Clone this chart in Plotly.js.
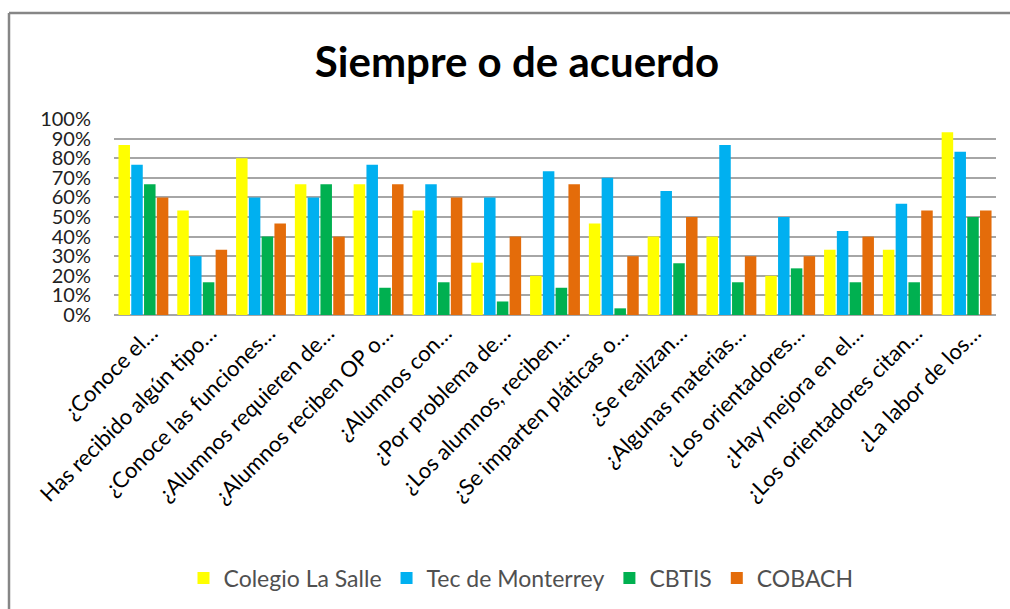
<!DOCTYPE html>
<html>
<head>
<meta charset="utf-8">
<script src="https://cdn.plot.ly/plotly-3.0.1.min.js"></script>
<style>html,body{margin:0;padding:0;background:#fff;}#chart{width:1010px;height:609px;}</style>
</head>
<body>
<div id="chart"></div>
<script>
const categories = [
  "¿Conoce el…",
  "Has recibido algún tipo…",
  "¿Conoce las funciones…",
  "¿Alumnos requieren de…",
  "¿Alumnos reciben OP o…",
  "¿Alumnos con…",
  "¿Por problema de…",
  "¿Los alumnos, reciben…",
  "¿Se imparten pláticas o…",
  "¿Se realizan…",
  "¿Algunas materias…",
  "¿Los orientadores…",
  "¿Hay mejora en el…",
  "¿Los orientadores citan…",
  "¿La labor de los…"
];
const laSalle   = [0.867, 0.533, 0.800, 0.667, 0.667, 0.533, 0.267, 0.200, 0.467, 0.400, 0.400, 0.200, 0.333, 0.333, 0.933];
const tec       = [0.767, 0.300, 0.600, 0.600, 0.767, 0.667, 0.600, 0.733, 0.700, 0.633, 0.867, 0.500, 0.429, 0.567, 0.833];
const cbtis     = [0.667, 0.167, 0.400, 0.667, 0.139, 0.167, 0.069, 0.139, 0.034, 0.264, 0.167, 0.238, 0.167, 0.167, 0.500];
const cobach    = [0.600, 0.333, 0.467, 0.400, 0.667, 0.600, 0.400, 0.667, 0.300, 0.500, 0.300, 0.300, 0.400, 0.533, 0.533];
const seriesNames = ["Colegio La Salle", "Tec de Monterrey", "CBTIS", "COBACH"];
const seriesColors = ["#FFFF00", "#00B0F0", "#00B050", "#E46C0A"];
const yTickVals = [0, 0.1, 0.2, 0.3, 0.4, 0.5, 0.6, 0.7, 0.8, 0.9, 1.0];
const yTickText = ["0%", "10%", "20%", "30%", "40%", "50%", "60%", "70%", "80%", "90%", "100%"];

const W = 1010, H = 609;
const M = {l: 114, r: 14, t: 119, b: 294};
const pw = W - M.l - M.r, ph = H - M.t - M.b;
const px = x => (x - M.l) / pw;
const py = y => (H - M.b - y) / ph;

const allSeries = [laSalle, tec, cbtis, cobach];
const traces = allSeries.map((vals, i) => ({
  type: "bar",
  x: categories,
  y: vals,
  name: seriesNames[i],
  marker: {color: seriesColors[i]},
  hoverinfo: "skip"
}));

const font = "Lato, 'Liberation Sans', sans-serif";
const layout = {
  width: W, height: H,
  margin: M,
  paper_bgcolor: "#fff",
  plot_bgcolor: "#fff",
  barmode: "group",
  bargap: 0.13,
  bargroupgap: 0.1,
  showlegend: true,
  title: {
    text: "<b>Siempre o de acuerdo</b>",
    font: {family: font, size: 42, color: "#000"},
    x: 517 / W, xanchor: "center", xref: "container",
    y: 1 - 62 / H, yanchor: "middle", yref: "container"
  },
  xaxis: {
    type: "category",
    tickangle: -45,
    tickfont: {family: font, size: 22, color: "#000"},
    ticklabelshift: 8,
    showgrid: false,
    showline: false,
    ticks: "",
    automargin: false
  },
  yaxis: {
    range: [0, 1.0],
    tickvals: yTickVals,
    ticktext: yTickText,
    tickfont: {family: font, size: 20, color: "#222"},
    showgrid: true,
    gridcolor: "#A6A6A6",
    gridwidth: 2,
    zeroline: true,
    zerolinecolor: "#A6A6A6",
    zerolinewidth: 2,
    ticks: "",
    ticklabelstandoff: 22,
    automargin: false,
    fixedrange: true
  },
  legend: {
    orientation: "h",
    x: 521 / W, xref: "container", xanchor: "center",
    y: 1 - 578 / H, yref: "container", yanchor: "middle",
    font: {family: font, size: 23, color: "#505050"},
    traceorder: "normal",
    itemwidth: 30
  },
  shapes: [
    {type: "line", xref: "paper", yref: "paper", x0: px(9), x1: px(9), y0: py(13), y1: py(H + 5), line: {color: "#868686", width: 2.5}},
    {type: "line", xref: "paper", yref: "paper", x0: px(9), x1: px(W + 5), y0: py(13), y1: py(13), line: {color: "#868686", width: 2.5}}
  ]
};

Plotly.newPlot("chart", traces, layout, {displayModeBar: false, staticPlot: true});
</script>
</body>
</html>
